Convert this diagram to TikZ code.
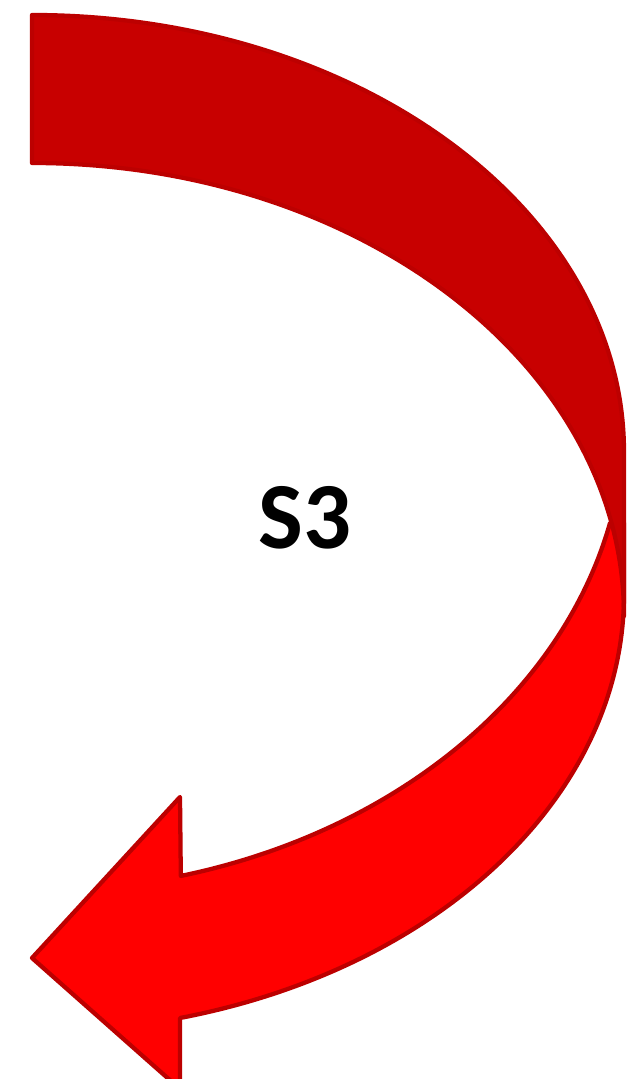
\documentclass[tikz,border=0pt]{standalone}
\usepackage{fontspec}
\setmainfont{Carlito}
\definecolor{darkband}{HTML}{C80000}
\definecolor{lightband}{HTML}{FF0000}
\definecolor{edge}{HTML}{BC0000}
\begin{document}
\begin{tikzpicture}[x=0.75pt,y=0.75pt,
  bandstyle/.style={draw=edge,line width=3.2pt,line join=round},
  labelstyle/.style={font=\fontsize{71}{80}\selectfont\bfseries,text=black}]
\useasboundingbox (0,0) rectangle (641,1079);
\clip (0,0) rectangle (641,1079);
% lower band with arrow head
\filldraw[bandstyle,fill=lightband]
  (610,556) arc[start angle=-12.83,end angle=-75.52,x radius=592,y radius=473]
  -- (180,282) -- (32,121) -- (180,-10) -- (180,61)
  arc[start angle=-75.52,end angle=0,x radius=592,y radius=437.5]
  -- (624,556) -- cycle;
% upper band
\filldraw[bandstyle,fill=darkband]
  (32,1064) arc[start angle=90,end angle=0,x radius=592,y radius=437]
  -- (624,463) arc[start angle=0,end angle=90,x radius=592,y radius=453] -- cycle;
\node[labelstyle] (s3) at (305,561) {S3};
\end{tikzpicture}
\end{document}
